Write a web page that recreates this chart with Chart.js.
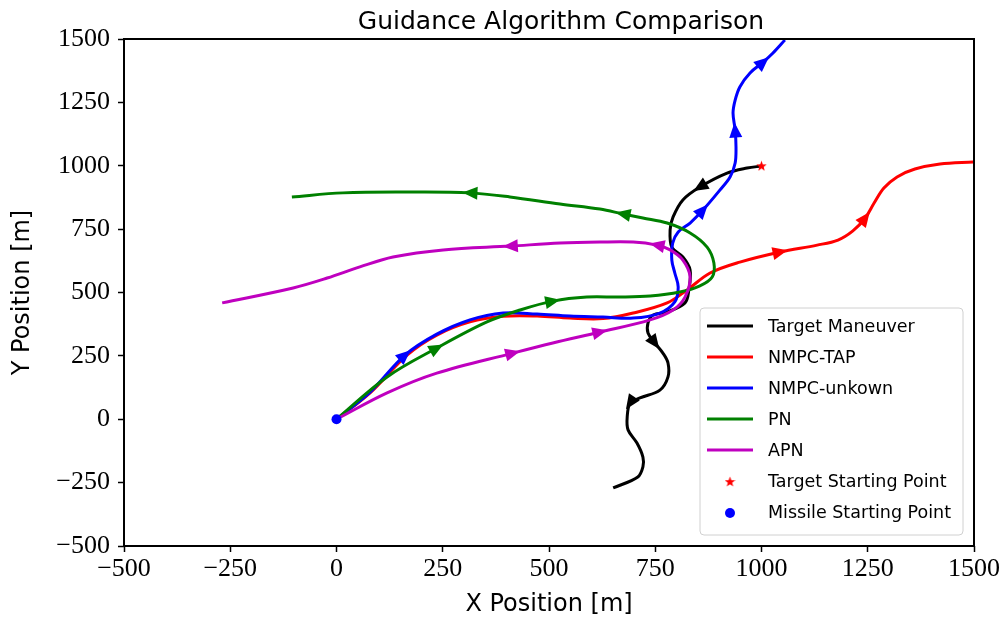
<!DOCTYPE html>
<html lang="en">
<head>
<meta charset="UTF-8" />
<title>Guidance Algorithm Comparison</title>
<script src="https://cdn.jsdelivr.net/npm/chart.js"></script>
<style>
  body { margin: 0; background: #fff; }
  canvas { display: block; }
</style>
</head>
<body>
<canvas id="guidanceChart" width="1006" height="623"></canvas>
<script>
// trajectories (metres)
const targetX = [1001, 966, 919, 855, 815, 792, 785, 789, 815, 832, 829, 820, 778, 745, 733, 733, 749, 768, 780, 780, 761, 714, 691, 684, 686, 707, 721, 721, 709, 651];
const targetY = [999, 991, 971, 916, 865, 798, 747, 679, 640, 589, 510, 459, 423, 411, 380, 340, 301, 261, 222, 167, 115, 84, 64, 9, -42, -94, -149, -188, -228, -271];

const tapX = [0, 79, 166, 236, 314, 392, 472, 549, 627, 698, 778, 825, 879, 949, 1044, 1131, 1180, 1215, 1244, 1265, 1288, 1319, 1361, 1420, 1498];
const tapY = [0, 104, 253, 332, 384, 406, 407, 399, 397, 419, 459, 510, 577, 620, 660, 687, 707, 743, 794, 853, 912, 956, 987, 1007, 1015];

const unkX = [0, 79, 161, 236, 314, 392, 472, 549, 627, 698, 761, 796, 804, 796, 789, 791, 804, 832, 862, 902, 926, 938, 940, 938, 933, 938, 949, 973, 1004, 1027, 1055];
const unkY = [0, 107, 253, 336, 392, 419, 415, 407, 403, 399, 419, 463, 522, 577, 628, 695, 739, 774, 825, 904, 956, 1011, 1074, 1141, 1208, 1259, 1311, 1366, 1409, 1445, 1496];

const pnX = [0, 119, 236, 354, 432, 509, 589, 667, 738, 808, 855, 884, 888, 872, 832, 778, 721, 674, 620, 526, 408, 314, 173, 15, -105];
const pnY = [0, 167, 281, 384, 431, 466, 482, 482, 486, 502, 526, 561, 616, 679, 735, 774, 794, 810, 829, 849, 877, 893, 896, 893, 877];

const apnX = [0, 119, 236, 415, 509, 620, 738, 792, 820, 832, 815, 785, 754, 698, 620, 526, 409, 251, 133, 55, -22, -102, -269];
const apnY = [0, 104, 182, 261, 301, 344, 392, 431, 482, 561, 628, 668, 687, 699, 699, 695, 683, 668, 640, 601, 557, 518, 459];

// which points carry a direction arrow
const targetArrows = [3, 16, 22];
const tapArrows = [14, 18];
const unkArrows = [2, 18, 23, 28];
const pnArrows = [2, 5, 17, 21];
const apnArrows = [3, 5, 12, 16];

const targetStart = [1000, 1000];
const missileStart = [0, 0];

const xTicks = [-500, -250, 0, 250, 500, 750, 1000, 1250, 1500];
const yTicks = [-500, -250, 0, 250, 500, 750, 1000, 1250, 1500];

const titleText = 'Guidance Algorithm Comparison';

function toPoints(xs, ys) {
    return xs.map((x, i) => ({ x: x, y: ys[i] }));
}

function fmtTick(v) {
    return String(v).replace('-', '\u2212');
}

function makeStar(size, color) {
    const c = document.createElement('canvas');
    c.width = size;
    c.height = size;
    const g = c.getContext('2d');
    const cx = size / 2, cy = size / 2 + 0.5, R = size / 2, r = R * 0.42;
    g.fillStyle = color;
    g.beginPath();
    for (let i = 0; i < 10; i++) {
        const a = -Math.PI / 2 + i * Math.PI / 5;
        const rad = i % 2 ? r : R;
        g.lineTo(cx + rad * Math.cos(a), cy + rad * Math.sin(a));
    }
    g.closePath();
    g.fill();
    return c;
}

const starImg = makeStar(11, '#ff0000');

function lineSet(label, xs, ys, color, arrows, order) {
    return {
        label: label,
        data: toPoints(xs, ys),
        showLine: true,
        borderColor: color,
        backgroundColor: color,
        borderWidth: 3,
        pointRadius: 0,
        tension: 0.35,
        arrows: arrows,
        order: order
    };
}

// arrow heads along each path, drawn right after their own line
const arrowPlugin = {
    id: 'arrows',
    afterDatasetDraw(chart, args) {
        const ds = chart.data.datasets[args.index];
        if (!ds.arrows) return;
        const pts = args.meta.data;
        const ctx = chart.ctx;
        ctx.save();
        ctx.fillStyle = ds.borderColor;
        ds.arrows.forEach(i => {
            const a = pts[Math.max(i - 1, 0)], b = pts[Math.min(i + 1, pts.length - 1)];
            const p = pts[i];
            let dx = b.x - a.x, dy = b.y - a.y;
            const len = Math.hypot(dx, dy) || 1;
            dx /= len; dy /= len;
            const L = 15, W = 6.5;
            ctx.beginPath();
            ctx.moveTo(p.x + dx * L / 2, p.y + dy * L / 2);
            ctx.lineTo(p.x - dx * L / 2 - dy * W, p.y - dy * L / 2 + dx * W);
            ctx.lineTo(p.x - dx * L / 2 + dy * W, p.y - dy * L / 2 - dx * W);
            ctx.closePath();
            ctx.fill();
        });
        ctx.restore();
    }
};

const framePlugin = {
    id: 'frame',
    afterDraw(chart) {
        const { left, right, top, bottom } = chart.chartArea;
        const ctx = chart.ctx;
        ctx.save();
        ctx.strokeStyle = '#000';
        ctx.lineWidth = 2;
        ctx.strokeRect(left, top, right - left, bottom - top);
        ctx.font = '25px "DejaVu Sans"';
        ctx.fillStyle = '#000';
        ctx.textAlign = 'center';
        ctx.textBaseline = 'alphabetic';
        ctx.fillText(titleText, (left + right) / 2 + 12, 29);
        ctx.restore();
    }
};

const legendPlugin = {
    id: 'boxLegend',
    afterDraw(chart) {
        const area = chart.chartArea;
        const ctx = chart.ctx;
        const w = 263, h = 227, rowH = 31;
        const x0 = area.right - 11 - w, y0 = area.bottom - 11 - h;
        ctx.save();
        ctx.beginPath();
        ctx.roundRect(x0, y0, w, h, 4);
        ctx.fillStyle = 'rgba(255,255,255,0.8)';
        ctx.fill();
        ctx.strokeStyle = '#d0d0d0';
        ctx.lineWidth = 1;
        ctx.stroke();
        ctx.font = '17.5px "DejaVu Sans"';
        ctx.textBaseline = 'middle';
        ctx.textAlign = 'left';
        chart.data.datasets.forEach((ds, i) => {
            const cy = y0 + 18 + i * rowH;
            if (ds.showLine) {
                ctx.strokeStyle = ds.borderColor;
                ctx.lineWidth = 3;
                ctx.beginPath();
                ctx.moveTo(x0 + 7, cy);
                ctx.lineTo(x0 + 53, cy);
                ctx.stroke();
            } else if (ds.pointStyle === 'circle') {
                ctx.fillStyle = ds.backgroundColor;
                ctx.beginPath();
                ctx.arc(x0 + 30, cy + 1, 5, 0, Math.PI * 2);
                ctx.fill();
            } else {
                ctx.drawImage(starImg, x0 + 30 - 5.5, cy - 5);
            }
            ctx.fillStyle = '#000';
            ctx.fillText(ds.label, x0 + 68, cy + 1);
        });
        ctx.restore();
    }
};

const datasets = [
    lineSet('Target Maneuver', targetX, targetY, '#000000', targetArrows, 5),
    lineSet('NMPC-TAP', tapX, tapY, '#ff0000', tapArrows, 4),
    lineSet('NMPC-unkown', unkX, unkY, '#0000ff', unkArrows, 3),
    lineSet('PN', pnX, pnY, '#008000', pnArrows, 2),
    lineSet('APN', apnX, apnY, '#bf00bf', apnArrows, 1),
    {
        label: 'Target Starting Point',
        data: [{ x: targetStart[0], y: targetStart[1] }],
        pointStyle: starImg,
        pointRadius: 6,
        backgroundColor: '#ff0000',
        order: 0
    },
    {
        label: 'Missile Starting Point',
        data: [{ x: missileStart[0], y: missileStart[1] }],
        pointStyle: 'circle',
        pointRadius: 5,
        borderWidth: 0,
        backgroundColor: '#0000ff',
        order: 0
    }
];

const tickFont = { family: 'Liberation Serif', size: 26 };
const labelFont = { family: 'DejaVu Sans', size: 24 };

new Chart(document.getElementById('guidanceChart'), {
    type: 'scatter',
    data: { datasets: datasets },
    options: {
        responsive: false,
        animation: false,
        devicePixelRatio: 1,
        layout: { padding: { top: 39, right: 32, left: 0, bottom: 0 } },
        plugins: {
            legend: { display: false },
            tooltip: { enabled: false }
        },
        scales: {
            x: {
                type: 'linear',
                min: xTicks[0],
                max: xTicks[xTicks.length - 1],
                afterFit: s => { s.height = 77; },
                afterBuildTicks: s => { s.ticks = xTicks.map(v => ({ value: v })); },
                ticks: { autoSkip: false, maxRotation: 0, padding: 2, color: '#000', font: tickFont, callback: fmtTick },
                grid: { drawOnChartArea: false, drawTicks: true, tickLength: 6, tickColor: '#000', tickWidth: 1.5 },
                border: { display: false },
                title: { display: true, text: 'X Position [m]', color: '#000', font: labelFont, padding: { top: 0, bottom: 4 } }
            },
            y: {
                type: 'linear',
                min: yTicks[0],
                max: yTicks[yTicks.length - 1],
                afterFit: s => { s.width = 124; },
                afterBuildTicks: s => { s.ticks = yTicks.map(v => ({ value: v })); },
                ticks: { autoSkip: false, padding: 8, color: '#000', font: tickFont, callback: fmtTick },
                grid: { drawOnChartArea: false, drawTicks: true, tickLength: 6, tickColor: '#000', tickWidth: 1.5 },
                border: { display: false },
                title: { display: true, text: 'Y Position [m]', color: '#000', font: labelFont, padding: { top: 8, bottom: 0 } }
            }
        }
    },
    plugins: [arrowPlugin, framePlugin, legendPlugin]
});
</script>
</body>
</html>
